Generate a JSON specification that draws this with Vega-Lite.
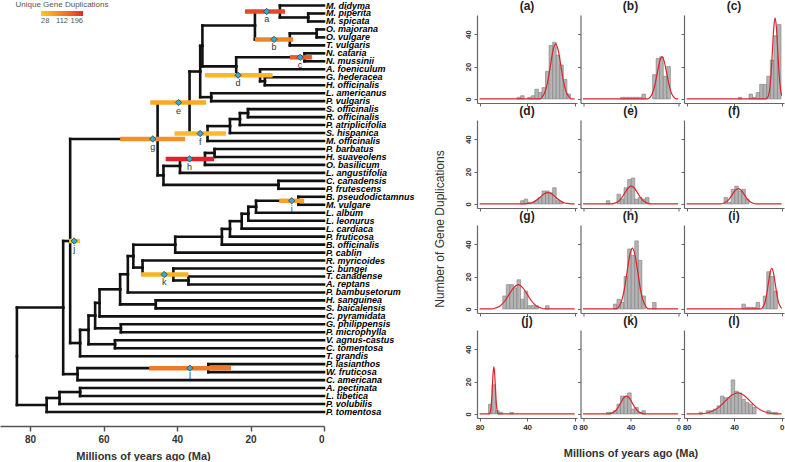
{
"$schema":"https://vega.github.io/schema/vega-lite/v6.json",
"padding":0,
"background":"white",
"config":{
 "font":"Liberation Sans",
 "view":{"stroke":null},
 "axis":{"grid":false,"domainColor":"#666","tickColor":"#666","labelColor":"#333","labelFontWeight":"bold","labelFontSize":8,"tickSize":3,"domainWidth":1.2,"tickWidth":1,"labelPadding":2,"labelOverlap":false},
 "axisY":{"labelOverlap":false,"labelBound":false,"labelFlush":false},
 "title":{"anchor":"middle","fontSize":12,"fontWeight":"bold","color":"#222","offset":2}
},
"datasets":{
"tree":[
{"t":"M. didyma","a":0,"y":1,"p":12.0,"q":1.75},
{"t":"M. piperita","a":0,"y":2,"p":4.3,"q":2.5},
{"t":"M. spicata","a":0,"y":3,"p":4.3,"q":2.5},
{"t":"O. majorana","a":0,"y":4,"p":2.0,"q":4.5},
{"t":"O. vulgare","a":0,"y":5,"p":2.0,"q":4.5},
{"t":"T. vulgaris","a":0,"y":6,"p":9.3,"q":5.25},
{"t":"N. cataria","a":0,"y":7,"p":5.3,"q":7.5},
{"t":"N. mussinii","a":0,"y":8,"p":5.3,"q":7.5},
{"t":"A. foeniculum","a":0,"y":9,"p":17.4,"q":9.75},
{"t":"G. hederacea","a":0,"y":10,"p":16.1,"q":10.5},
{"t":"H. officinalis","a":0,"y":11,"p":16.1,"q":10.5},
{"t":"L. americanus","a":0,"y":12,"p":30.7,"q":12.5},
{"t":"P. vulgaris","a":0,"y":13,"p":30.7,"q":12.5},
{"t":"S. officinalis","a":0,"y":14,"p":20.7,"q":14.5},
{"t":"R. officinalis","a":0,"y":15,"p":20.7,"q":14.5},
{"t":"P. atriplicifolia","a":0,"y":16,"p":22.9,"q":15.25},
{"t":"S. hispanica","a":0,"y":17,"p":25.6,"q":16.13},
{"t":"M. officinalis","a":0,"y":18,"p":31.7,"q":17.06},
{"t":"P. barbatus","a":0,"y":19,"p":29.8,"q":19.5},
{"t":"H. suaveolens","a":0,"y":20,"p":29.8,"q":19.5},
{"t":"O. basilicum","a":0,"y":21,"p":32.4,"q":20.25},
{"t":"L. angustifolia","a":0,"y":22,"p":39.2,"q":21.13},
{"t":"C. canadensis","a":0,"y":23,"p":12.4,"q":23.5},
{"t":"P. frutescens","a":0,"y":24,"p":12.4,"q":23.5},
{"t":"B. pseudodictamnus","a":0,"y":25,"p":7.0,"q":25.5},
{"t":"M. vulgare","a":0,"y":26,"p":7.0,"q":25.5},
{"t":"L. album","a":0,"y":27,"p":18.5,"q":26.25},
{"t":"L. leonurus","a":0,"y":28,"p":20.6,"q":27.13},
{"t":"L. cardiaca","a":0,"y":29,"p":22.4,"q":28.06},
{"t":"P. fruticosa","a":0,"y":30,"p":25.6,"q":29.03},
{"t":"B. officinalis","a":0,"y":31,"p":27.8,"q":30.02},
{"t":"P. cablin","a":0,"y":32,"p":40.5,"q":31.01},
{"t":"R. myricoides","a":0,"y":33,"p":49.4,"q":33.88},
{"t":"C. bungei","a":0,"y":34,"p":41.0,"q":34.75},
{"t":"T. canadense","a":0,"y":35,"p":36.9,"q":35.5},
{"t":"A. reptans","a":0,"y":36,"p":36.9,"q":35.5},
{"t":"P. bambusetorum","a":0,"y":37,"p":53.4,"q":34.72},
{"t":"H. sanguinea","a":0,"y":38,"p":45.8,"q":38.5},
{"t":"S. baicalensis","a":0,"y":39,"p":45.8,"q":38.5},
{"t":"C. pyramidata","a":0,"y":40,"p":61.1,"q":38.31},
{"t":"G. philippensis","a":0,"y":41,"p":55.3,"q":41.5},
{"t":"P. microphylla","a":0,"y":42,"p":55.3,"q":41.5},
{"t":"V. agnus-castus","a":0,"y":43,"p":56.9,"q":43.5},
{"t":"C. tomentosa","a":0,"y":44,"p":56.9,"q":43.5},
{"t":"T. grandis","a":0,"y":45,"p":66.4,"q":43.35},
{"t":"P. lasianthos","a":0,"y":46,"p":31.5,"q":46.5},
{"t":"W. fruticosa","a":0,"y":47,"p":31.5,"q":46.5},
{"t":"C. americana","a":0,"y":48,"p":67.1,"q":47.25},
{"t":"A. pectinata","a":0,"y":49,"p":66.4,"q":49.5},
{"t":"L. tibetica","a":0,"y":50,"p":66.4,"q":49.5},
{"t":"P. volubilis","a":0,"y":51,"p":72.0,"q":50.25},
{"t":"P. tomentosa","a":0,"y":52,"p":75.5,"q":51.13},
{"a":4.3,"y":2.5,"p":12.0,"q":1.75},
{"a":12.0,"y":1.75,"p":18.8,"q":3.5},
{"a":2.0,"y":4.5,"p":9.3,"q":5.25},
{"a":9.3,"y":5.25,"p":18.8,"q":3.5},
{"a":18.8,"y":3.5,"p":33.1,"q":6.06},
{"a":5.3,"y":7.5,"p":23.9,"q":8.63},
{"a":16.1,"y":10.5,"p":17.4,"q":9.75},
{"a":17.4,"y":9.75,"p":23.9,"q":8.63},
{"a":23.9,"y":8.63,"p":33.1,"q":6.06},
{"a":33.1,"y":6.06,"p":33.7,"q":9.28},
{"a":30.7,"y":12.5,"p":33.7,"q":9.28},
{"a":33.7,"y":9.28,"p":36.6,"q":13.17},
{"a":20.7,"y":14.5,"p":22.9,"q":15.25},
{"a":22.9,"y":15.25,"p":25.6,"q":16.13},
{"a":25.6,"y":16.13,"p":31.7,"q":17.06},
{"a":31.7,"y":17.06,"p":36.6,"q":13.17},
{"a":36.6,"y":13.17,"p":45.3,"q":17.74},
{"a":29.8,"y":19.5,"p":32.4,"q":20.25},
{"a":32.4,"y":20.25,"p":39.2,"q":21.13},
{"a":39.2,"y":21.13,"p":43.7,"q":22.31},
{"a":12.4,"y":23.5,"p":43.7,"q":22.31},
{"a":43.7,"y":22.31,"p":45.3,"q":17.74},
{"a":45.3,"y":17.74,"p":69.1,"q":30.55},
{"a":7.0,"y":25.5,"p":18.5,"q":26.25},
{"a":18.5,"y":26.25,"p":20.6,"q":27.13},
{"a":20.6,"y":27.13,"p":22.4,"q":28.06},
{"a":22.4,"y":28.06,"p":25.6,"q":29.03},
{"a":25.6,"y":29.03,"p":27.8,"q":30.02},
{"a":27.8,"y":30.02,"p":40.5,"q":31.01},
{"a":40.5,"y":31.01,"p":51.9,"q":32.44},
{"a":36.9,"y":35.5,"p":41.0,"q":34.75},
{"a":41.0,"y":34.75,"p":49.4,"q":33.88},
{"a":49.4,"y":33.88,"p":51.9,"q":32.44},
{"a":51.9,"y":32.44,"p":53.4,"q":34.72},
{"a":53.4,"y":34.72,"p":55.5,"q":36.61},
{"a":45.8,"y":38.5,"p":55.5,"q":36.61},
{"a":55.5,"y":36.61,"p":61.1,"q":38.31},
{"a":61.1,"y":38.31,"p":62.3,"q":39.9},
{"a":55.3,"y":41.5,"p":62.3,"q":39.9},
{"a":62.3,"y":39.9,"p":64.1,"q":41.7},
{"a":56.9,"y":43.5,"p":64.1,"q":41.7},
{"a":64.1,"y":41.7,"p":66.4,"q":43.35},
{"a":66.4,"y":43.35,"p":69.1,"q":30.55},
{"a":69.1,"y":30.55,"p":71.0,"q":38.9},
{"a":31.5,"y":46.5,"p":67.1,"q":47.25},
{"a":67.1,"y":47.25,"p":71.0,"q":38.9},
{"a":71.0,"y":38.9,"p":83.6,"q":45.0},
{"a":66.4,"y":49.5,"p":72.0,"q":50.25},
{"a":72.0,"y":50.25,"p":75.5,"q":51.13},
{"a":75.5,"y":51.13,"p":83.6,"q":45.0}
],
"ev":[
{"ev":"a","m":15.6,"lo":10.6,"hi":21.5,"y":1.75,"n":171},
{"ev":"b","m":13.6,"lo":8.4,"hi":18.8,"y":5.25,"n":109},
{"ev":"c","m":6.5,"lo":3.3,"hi":9.3,"y":7.5,"n":150},
{"ev":"d","m":23.4,"lo":14.0,"hi":32.4,"y":9.75,"n":49},
{"ev":"e","m":39.6,"lo":32.1,"hi":47.3,"y":13.17,"n":66},
{"ev":"f","m":33.7,"lo":26.7,"hi":40.7,"y":17.06,"n":45},
{"ev":"g","m":46.6,"lo":37.8,"hi":55.5,"y":17.74,"n":94},
{"ev":"h","m":36.6,"lo":29.9,"hi":43.1,"y":20.25,"n":196},
{"ev":"i","m":8.8,"lo":5.4,"hi":12.2,"y":25.5,"n":73},
{"ev":"j","m":68.0,"lo":66.4,"hi":69.4,"y":30.55,"n":28},
{"ev":"k","m":43.5,"lo":36.9,"hi":49.8,"y":34.75,"n":55},
{"ev":"l","m":36.5,"lo":25.3,"hi":47.6,"y":46.5,"n":122}
],
"hist":[
{"p":"a","lo":45.5,"hi":48.5,"n":1},{"p":"a","lo":42.5,"hi":45.5,"n":2},{"p":"a","lo":36.5,"hi":39.5,"n":1},{"p":"a","lo":33.5,"hi":36.5,"n":2},{"p":"a","lo":30.5,"hi":33.5,"n":6},{"p":"a","lo":27.5,"hi":30.5,"n":4},{"p":"a","lo":24.5,"hi":27.5,"n":7},{"p":"a","lo":21.5,"hi":24.5,"n":17},{"p":"a","lo":18.5,"hi":21.5,"n":33},{"p":"a","lo":15.5,"hi":18.5,"n":35},{"p":"a","lo":12.5,"hi":15.5,"n":27},{"p":"a","lo":9.5,"hi":12.5,"n":21},{"p":"a","lo":6.5,"hi":9.5,"n":12},{"p":"a","lo":3.5,"hi":6.5,"n":3},
{"p":"b","lo":45.5,"hi":48.5,"n":1},{"p":"b","lo":42.5,"hi":45.5,"n":1},{"p":"b","lo":39.5,"hi":42.5,"n":1},{"p":"b","lo":36.5,"hi":39.5,"n":1},{"p":"b","lo":33.5,"hi":36.5,"n":1},{"p":"b","lo":30.5,"hi":33.5,"n":1},{"p":"b","lo":27.5,"hi":30.5,"n":3},{"p":"b","lo":18.5,"hi":21.5,"n":15},{"p":"b","lo":15.5,"hi":18.5,"n":25},{"p":"b","lo":12.5,"hi":15.5,"n":26},{"p":"b","lo":9.5,"hi":12.5,"n":14},{"p":"b","lo":6.5,"hi":9.5,"n":20},
{"p":"c","lo":33.5,"hi":36.5,"n":1},{"p":"c","lo":24.5,"hi":27.5,"n":3},{"p":"c","lo":21.5,"hi":24.5,"n":1},{"p":"c","lo":18.5,"hi":21.5,"n":4},{"p":"c","lo":15.5,"hi":18.5,"n":9},{"p":"c","lo":12.5,"hi":15.5,"n":9},{"p":"c","lo":9.5,"hi":12.5,"n":14},{"p":"c","lo":6.5,"hi":9.5,"n":24},{"p":"c","lo":3.5,"hi":6.5,"n":39},{"p":"c","lo":0.5,"hi":3.5,"n":46},
{"p":"d","lo":42.5,"hi":45.5,"n":2},{"p":"d","lo":39.5,"hi":42.5,"n":3},{"p":"d","lo":36.5,"hi":39.5,"n":1},{"p":"d","lo":33.5,"hi":36.5,"n":1},{"p":"d","lo":30.5,"hi":33.5,"n":2},{"p":"d","lo":27.5,"hi":30.5,"n":4},{"p":"d","lo":24.5,"hi":27.5,"n":8},{"p":"d","lo":21.5,"hi":24.5,"n":8},{"p":"d","lo":18.5,"hi":21.5,"n":7},{"p":"d","lo":15.5,"hi":18.5,"n":10},{"p":"d","lo":12.5,"hi":15.5,"n":2},{"p":"d","lo":9.5,"hi":12.5,"n":1},
{"p":"e","lo":57.5,"hi":60.5,"n":2},{"p":"e","lo":48.5,"hi":51.5,"n":6},{"p":"e","lo":45.5,"hi":48.5,"n":3},{"p":"e","lo":42.5,"hi":45.5,"n":10},{"p":"e","lo":39.5,"hi":42.5,"n":15},{"p":"e","lo":36.5,"hi":39.5,"n":16},{"p":"e","lo":33.5,"hi":36.5,"n":3},{"p":"e","lo":30.5,"hi":33.5,"n":4},{"p":"e","lo":27.5,"hi":30.5,"n":3},{"p":"e","lo":24.5,"hi":27.5,"n":4},
{"p":"f","lo":45.5,"hi":48.5,"n":4},{"p":"f","lo":42.5,"hi":45.5,"n":1},{"p":"f","lo":39.5,"hi":42.5,"n":9},{"p":"f","lo":36.5,"hi":39.5,"n":11},{"p":"f","lo":33.5,"hi":36.5,"n":8},{"p":"f","lo":30.5,"hi":33.5,"n":9},{"p":"f","lo":27.5,"hi":30.5,"n":3},
{"p":"g","lo":57.5,"hi":60.5,"n":8},{"p":"g","lo":54.5,"hi":57.5,"n":15},{"p":"g","lo":51.5,"hi":54.5,"n":15},{"p":"g","lo":48.5,"hi":51.5,"n":13},{"p":"g","lo":45.5,"hi":48.5,"n":18},{"p":"g","lo":42.5,"hi":45.5,"n":6},{"p":"g","lo":39.5,"hi":42.5,"n":11},{"p":"g","lo":36.5,"hi":39.5,"n":2},{"p":"g","lo":33.5,"hi":36.5,"n":2},{"p":"g","lo":30.5,"hi":33.5,"n":2},{"p":"g","lo":21.5,"hi":24.5,"n":2},
{"p":"h","lo":51.5,"hi":54.5,"n":3},{"p":"h","lo":48.5,"hi":51.5,"n":6},{"p":"h","lo":45.5,"hi":48.5,"n":4},{"p":"h","lo":42.5,"hi":45.5,"n":20},{"p":"h","lo":39.5,"hi":42.5,"n":37},{"p":"h","lo":36.5,"hi":39.5,"n":33},{"p":"h","lo":33.5,"hi":36.5,"n":42},{"p":"h","lo":30.5,"hi":33.5,"n":30},{"p":"h","lo":27.5,"hi":30.5,"n":8},{"p":"h","lo":18.5,"hi":21.5,"n":4},
{"p":"i","lo":30.5,"hi":33.5,"n":3},{"p":"i","lo":27.5,"hi":30.5,"n":1},{"p":"i","lo":24.5,"hi":27.5,"n":1},{"p":"i","lo":21.5,"hi":24.5,"n":1},{"p":"i","lo":18.5,"hi":21.5,"n":4},{"p":"i","lo":12.5,"hi":15.5,"n":8},{"p":"i","lo":9.5,"hi":12.5,"n":23},{"p":"i","lo":6.5,"hi":9.5,"n":20},{"p":"i","lo":3.5,"hi":6.5,"n":11},
{"p":"j","lo":69.5,"hi":72.5,"n":6},{"p":"j","lo":66.5,"hi":69.5,"n":18},{"p":"j","lo":63.5,"hi":66.5,"n":2},{"p":"j","lo":60.5,"hi":63.5,"n":1},{"p":"j","lo":51.5,"hi":54.5,"n":1},
{"p":"k","lo":57.5,"hi":60.5,"n":1},{"p":"k","lo":54.5,"hi":57.5,"n":1},{"p":"k","lo":51.5,"hi":54.5,"n":2},{"p":"k","lo":48.5,"hi":51.5,"n":6},{"p":"k","lo":45.5,"hi":48.5,"n":11},{"p":"k","lo":42.5,"hi":45.5,"n":11},{"p":"k","lo":39.5,"hi":42.5,"n":13},{"p":"k","lo":36.5,"hi":39.5,"n":3},{"p":"k","lo":33.5,"hi":36.5,"n":4},{"p":"k","lo":30.5,"hi":33.5,"n":1},{"p":"k","lo":27.5,"hi":30.5,"n":2},
{"p":"l","lo":66.5,"hi":69.5,"n":1},{"p":"l","lo":60.5,"hi":63.5,"n":2},{"p":"l","lo":57.5,"hi":60.5,"n":2},{"p":"l","lo":54.5,"hi":57.5,"n":3},{"p":"l","lo":51.5,"hi":54.5,"n":5},{"p":"l","lo":48.5,"hi":51.5,"n":11},{"p":"l","lo":45.5,"hi":48.5,"n":10},{"p":"l","lo":42.5,"hi":45.5,"n":10},{"p":"l","lo":39.5,"hi":42.5,"n":21},{"p":"l","lo":36.5,"hi":39.5,"n":14},{"p":"l","lo":33.5,"hi":36.5,"n":13},{"p":"l","lo":30.5,"hi":33.5,"n":9},{"p":"l","lo":27.5,"hi":30.5,"n":7},{"p":"l","lo":24.5,"hi":27.5,"n":6},{"p":"l","lo":21.5,"hi":24.5,"n":4},{"p":"l","lo":9.5,"hi":12.5,"n":2},{"p":"l","lo":6.5,"hi":9.5,"n":1},{"p":"l","lo":3.5,"hi":6.5,"n":1}
],
"curve":[
{"p":"a","x":0,"v":0},{"p":"a","x":2.8,"v":0},{"p":"a","x":5,"v":1.5},{"p":"a","x":7.2,"v":4.6},{"p":"a","x":9.4,"v":11},{"p":"a","x":11.6,"v":20.6},{"p":"a","x":13.8,"v":30},{"p":"a","x":16,"v":34},{"p":"a","x":18.2,"v":30},{"p":"a","x":20.4,"v":20.6},{"p":"a","x":22.6,"v":11},{"p":"a","x":24.8,"v":4.6},{"p":"a","x":27,"v":1.5},{"p":"a","x":29.2,"v":0},{"p":"a","x":80,"v":0},
{"p":"b","x":0,"v":0},{"p":"b","x":1.6,"v":0},{"p":"b","x":3.6,"v":1.1},{"p":"b","x":5.6,"v":3.5},{"p":"b","x":7.6,"v":8.5},{"p":"b","x":9.6,"v":15.8},{"p":"b","x":11.6,"v":22.9},{"p":"b","x":13.6,"v":26},{"p":"b","x":15.6,"v":22.9},{"p":"b","x":17.6,"v":15.8},{"p":"b","x":19.6,"v":8.5},{"p":"b","x":21.6,"v":3.5},{"p":"b","x":23.6,"v":1.1},{"p":"b","x":25.6,"v":0},{"p":"b","x":80,"v":0},
{"p":"c","x":0,"v":2},{"p":"c","x":1.1,"v":6.8},{"p":"c","x":2.2,"v":16.2},{"p":"c","x":3.3,"v":30.4},{"p":"c","x":4.4,"v":44.1},{"p":"c","x":5.5,"v":50},{"p":"c","x":6.6,"v":44.1},{"p":"c","x":7.7,"v":30.4},{"p":"c","x":8.8,"v":16.2},{"p":"c","x":9.9,"v":6.8},{"p":"c","x":11,"v":2.2},{"p":"c","x":12.1,"v":0.7},{"p":"c","x":13.2,"v":0},{"p":"c","x":80,"v":0},
{"p":"d","x":0,"v":0},{"p":"d","x":3,"v":0},{"p":"d","x":6.25,"v":0.3},{"p":"d","x":9.5,"v":0.9},{"p":"d","x":12.75,"v":2.3},{"p":"d","x":16,"v":4.2},{"p":"d","x":19.25,"v":6.2},{"p":"d","x":22.5,"v":7},{"p":"d","x":25.75,"v":6.2},{"p":"d","x":29,"v":4.2},{"p":"d","x":32.25,"v":2.3},{"p":"d","x":35.5,"v":0.9},{"p":"d","x":38.75,"v":0.3},{"p":"d","x":42,"v":0},{"p":"d","x":80,"v":0},
{"p":"e","x":0,"v":0},{"p":"e","x":23,"v":0},{"p":"e","x":25.75,"v":0.5},{"p":"e","x":28.5,"v":1.5},{"p":"e","x":31.25,"v":3.6},{"p":"e","x":34,"v":6.7},{"p":"e","x":36.75,"v":9.7},{"p":"e","x":39.5,"v":11},{"p":"e","x":42.25,"v":9.7},{"p":"e","x":45,"v":6.7},{"p":"e","x":47.75,"v":3.6},{"p":"e","x":50.5,"v":1.5},{"p":"e","x":53.25,"v":0.5},{"p":"e","x":56,"v":0},{"p":"e","x":80,"v":0},
{"p":"f","x":0,"v":0},{"p":"f","x":21.5,"v":0},{"p":"f","x":24,"v":0.4},{"p":"f","x":26.5,"v":1.3},{"p":"f","x":29,"v":3.1},{"p":"f","x":31.5,"v":5.8},{"p":"f","x":34,"v":8.4},{"p":"f","x":36.5,"v":9.5},{"p":"f","x":39,"v":8.4},{"p":"f","x":41.5,"v":5.8},{"p":"f","x":44,"v":3.1},{"p":"f","x":46.5,"v":1.3},{"p":"f","x":49,"v":0.4},{"p":"f","x":51.5,"v":0},{"p":"f","x":80,"v":0},
{"p":"g","x":0,"v":0},{"p":"g","x":25,"v":0},{"p":"g","x":28.75,"v":0.7},{"p":"g","x":32.5,"v":2},{"p":"g","x":36.25,"v":4.9},{"p":"g","x":40,"v":9.1},{"p":"g","x":43.75,"v":13.2},{"p":"g","x":47.5,"v":15},{"p":"g","x":51.25,"v":13.2},{"p":"g","x":55,"v":9.1},{"p":"g","x":58.75,"v":4.9},{"p":"g","x":62.5,"v":2},{"p":"g","x":66.25,"v":0.7},{"p":"g","x":70,"v":0},{"p":"g","x":80,"v":0},
{"p":"h","x":0,"v":0},{"p":"h","x":25,"v":0},{"p":"h","x":27.25,"v":1.6},{"p":"h","x":29.5,"v":5.1},{"p":"h","x":31.75,"v":12.2},{"p":"h","x":34,"v":22.8},{"p":"h","x":36.25,"v":33.1},{"p":"h","x":38.5,"v":37.5},{"p":"h","x":40.75,"v":33.1},{"p":"h","x":43,"v":22.8},{"p":"h","x":45.25,"v":12.2},{"p":"h","x":47.5,"v":5.1},{"p":"h","x":49.75,"v":1.6},{"p":"h","x":52,"v":0},{"p":"h","x":80,"v":0},
{"p":"i","x":0,"v":0.4},{"p":"i","x":0.8,"v":1.1},{"p":"i","x":2.3,"v":3.4},{"p":"i","x":3.8,"v":8.1},{"p":"i","x":5.3,"v":15.2},{"p":"i","x":6.8,"v":22},{"p":"i","x":8.3,"v":25},{"p":"i","x":9.8,"v":22},{"p":"i","x":11.3,"v":15.2},{"p":"i","x":12.8,"v":8.1},{"p":"i","x":14.3,"v":3.4},{"p":"i","x":15.8,"v":1.1},{"p":"i","x":17.3,"v":0},{"p":"i","x":80,"v":0},
{"p":"j","x":0,"v":0},{"p":"j","x":64.4,"v":0},{"p":"j","x":65,"v":1.3},{"p":"j","x":65.6,"v":3.9},{"p":"j","x":66.2,"v":9.4},{"p":"j","x":66.8,"v":17.6},{"p":"j","x":67.4,"v":25.6},{"p":"j","x":68,"v":29},{"p":"j","x":68.6,"v":25.6},{"p":"j","x":69.2,"v":17.6},{"p":"j","x":69.8,"v":9.4},{"p":"j","x":70.4,"v":3.9},{"p":"j","x":71,"v":1.3},{"p":"j","x":71.6,"v":0},{"p":"j","x":80,"v":0},
{"p":"k","x":0,"v":0},{"p":"k","x":28.5,"v":0},{"p":"k","x":31,"v":0.5},{"p":"k","x":33.5,"v":1.5},{"p":"k","x":36,"v":3.6},{"p":"k","x":38.5,"v":6.7},{"p":"k","x":41,"v":9.7},{"p":"k","x":43.5,"v":11},{"p":"k","x":46,"v":9.7},{"p":"k","x":48.5,"v":6.7},{"p":"k","x":51,"v":3.6},{"p":"k","x":53.5,"v":1.5},{"p":"k","x":56,"v":0.5},{"p":"k","x":58.5,"v":0},{"p":"k","x":80,"v":0},
{"p":"l","x":0,"v":0},{"p":"l","x":5.5,"v":0},{"p":"l","x":10.75,"v":0.6},{"p":"l","x":16,"v":1.8},{"p":"l","x":21.25,"v":4.2},{"p":"l","x":26.5,"v":7.9},{"p":"l","x":31.75,"v":11.5},{"p":"l","x":37,"v":13},{"p":"l","x":42.25,"v":11.5},{"p":"l","x":47.5,"v":7.9},{"p":"l","x":52.75,"v":4.2},{"p":"l","x":58,"v":1.8},{"p":"l","x":63.25,"v":0.6},{"p":"l","x":68.5,"v":0},{"p":"l","x":80,"v":0}
]
},
"spacing":18,
"hconcat":[
{
 "width":324,"height":411,
 "layer":[
  {"data":{"name":"tree"},"mark":{"type":"rule","color":"#111","strokeWidth":2.6,"strokeCap":"square"},
   "encoding":{
    "x":{"field":"a","type":"quantitative","scale":{"domain":[0,88.2],"reverse":true,"nice":false,"zero":false},
     "axis":{"values":[80,60,40,20,0],"title":"Millions of years ago (Ma)","titleFontSize":11,"titleFontWeight":"bold","titleColor":"#333","titlePadding":6,"titleX":143,"labelFontSize":10,"labelFontWeight":"bold","labelColor":"#333","labelPadding":3,"domainColor":"#555","domainWidth":1.5,"tickColor":"#555","tickWidth":1.5,"tickSize":5}},
    "x2":{"field":"p"},
    "y":{"field":"y","type":"quantitative","scale":{"domain":[2.19,53.76],"reverse":true,"nice":false,"zero":false},"axis":null}}},
  {"data":{"name":"tree"},"mark":{"type":"rule","color":"#111","strokeWidth":2.6,"strokeCap":"square"},
   "encoding":{"x":{"field":"p","type":"quantitative"},"y":{"field":"y","type":"quantitative"},"y2":{"field":"q"}}},
  {"data":{"name":"tree"},"transform":[{"filter":"isValid(datum.t)"}],
   "mark":{"type":"text","align":"left","baseline":"middle","dx":2,"fontSize":9,"fontStyle":"italic","fontWeight":"bold","color":"#000"},
   "encoding":{"x":{"field":"a","type":"quantitative"},"y":{"field":"y","type":"quantitative"},"text":{"field":"t"}}},
  {"data":{"name":"ev"},"mark":{"type":"rule","strokeWidth":4.5},
   "encoding":{"x":{"field":"lo","type":"quantitative"},"x2":{"field":"hi"},"y":{"field":"y","type":"quantitative"},
    "color":{"field":"n","type":"quantitative","scale":{"domain":[28,112,196],"range":["#fbc92c","#ef8228","#e2212e"]},
     "legend":{"title":"Unique Gene Duplications","orient":"none","legendX":16,"legendY":-14,"direction":"horizontal","gradientLength":42,"gradientThickness":5,"values":[28,112,196],"titleFontSize":8,"titleFontWeight":"normal","titleColor":"#555","titleAnchor":"middle","titlePadding":2,"labelFontSize":7.5,"labelColor":"#555","labelOffset":1,"gradientStrokeWidth":0}}}},
  {"data":{"name":"ev"},"mark":{"type":"point","shape":"diamond","filled":true,"size":40,"fill":"#42a5c9","stroke":"#1b4a5e","strokeWidth":0.8,"opacity":1},
   "encoding":{"x":{"field":"m","type":"quantitative"},"y":{"field":"y","type":"quantitative"}}},
  {"data":{"name":"ev"},"mark":{"type":"text","baseline":"middle","dy":8,"fontSize":9,"color":"#333"},
   "encoding":{"x":{"field":"m","type":"quantitative"},"y":{"field":"y","type":"quantitative"},"text":{"field":"ev"}}}
 ]
},
{
 "title":{"text":"Number of Gene Duplications","orient":"left","anchor":"middle","fontSize":12,"fontWeight":"normal","color":"#333","offset":17},
 "columns":3,
 "spacing":{"row":17,"column":3.5},
 "bounds":"flush",
 "concat":[
  {"title":"(a)","width":100,"height":88,"layer":[
   {"data":{"name":"hist"},"transform":[{"filter":"datum.p==='a'"}],"mark":{"type":"rect","fill":"#b4b4b4","stroke":"#7d7d7d","strokeWidth":0.6},
    "encoding":{"x":{"field":"lo","type":"quantitative","scale":{"domain":[-2,82.2],"reverse":true,"nice":false,"zero":false},"axis":{"values":[80,60,40,20,0],"title":null,"labels":false}},"x2":{"field":"hi"},
     "y":{"field":"n","type":"quantitative","scale":{"domain":[-2.5,51.8],"nice":false,"zero":false},"axis":{"values":[0,10,20,30,40,50],"title":null,"labels":true,"labelAngle":-90,"labelAlign":"center","labelBaseline":"bottom","labelFontSize":7.5,"labelOverlap":false}},"y2":{"datum":0}}},
   {"data":{"name":"curve"},"transform":[{"filter":"datum.p==='a'"}],"mark":{"type":"line","color":"#d9252b","strokeWidth":1.2,"interpolate":"monotone"},
    "encoding":{"x":{"field":"x","type":"quantitative"},"y":{"field":"v","type":"quantitative"}}}]},
  {"title":"(b)","width":100,"height":88,"layer":[
   {"data":{"name":"hist"},"transform":[{"filter":"datum.p==='b'"}],"mark":{"type":"rect","fill":"#b4b4b4","stroke":"#7d7d7d","strokeWidth":0.6},
    "encoding":{"x":{"field":"lo","type":"quantitative","scale":{"domain":[-2,82.2],"reverse":true,"nice":false,"zero":false},"axis":{"values":[80,60,40,20,0],"title":null,"labels":false}},"x2":{"field":"hi"},
     "y":{"field":"n","type":"quantitative","scale":{"domain":[-2.5,51.8],"nice":false,"zero":false},"axis":{"values":[0,10,20,30,40,50],"title":null,"labels":false}},"y2":{"datum":0}}},
   {"data":{"name":"curve"},"transform":[{"filter":"datum.p==='b'"}],"mark":{"type":"line","color":"#d9252b","strokeWidth":1.2,"interpolate":"monotone"},
    "encoding":{"x":{"field":"x","type":"quantitative"},"y":{"field":"v","type":"quantitative"}}}]},
  {"title":"(c)","width":100,"height":88,"layer":[
   {"data":{"name":"hist"},"transform":[{"filter":"datum.p==='c'"}],"mark":{"type":"rect","fill":"#b4b4b4","stroke":"#7d7d7d","strokeWidth":0.6},
    "encoding":{"x":{"field":"lo","type":"quantitative","scale":{"domain":[-2,82.2],"reverse":true,"nice":false,"zero":false},"axis":{"values":[80,60,40,20,0],"title":null,"labels":false}},"x2":{"field":"hi"},
     "y":{"field":"n","type":"quantitative","scale":{"domain":[-2.5,51.8],"nice":false,"zero":false},"axis":{"values":[0,10,20,30,40,50],"title":null,"labels":false}},"y2":{"datum":0}}},
   {"data":{"name":"curve"},"transform":[{"filter":"datum.p==='c'"}],"mark":{"type":"line","color":"#d9252b","strokeWidth":1.2,"interpolate":"monotone"},
    "encoding":{"x":{"field":"x","type":"quantitative"},"y":{"field":"v","type":"quantitative"}}}]},
  {"title":"(d)","width":100,"height":88,"layer":[
   {"data":{"name":"hist"},"transform":[{"filter":"datum.p==='d'"}],"mark":{"type":"rect","fill":"#b4b4b4","stroke":"#7d7d7d","strokeWidth":0.6},
    "encoding":{"x":{"field":"lo","type":"quantitative","scale":{"domain":[-2,82.2],"reverse":true,"nice":false,"zero":false},"axis":{"values":[80,60,40,20,0],"title":null,"labels":false}},"x2":{"field":"hi"},
     "y":{"field":"n","type":"quantitative","scale":{"domain":[-2.5,51.8],"nice":false,"zero":false},"axis":{"values":[0,10,20,30,40,50],"title":null,"labels":true,"labelAngle":-90,"labelAlign":"center","labelBaseline":"bottom","labelFontSize":7.5,"labelOverlap":false}},"y2":{"datum":0}}},
   {"data":{"name":"curve"},"transform":[{"filter":"datum.p==='d'"}],"mark":{"type":"line","color":"#d9252b","strokeWidth":1.2,"interpolate":"monotone"},
    "encoding":{"x":{"field":"x","type":"quantitative"},"y":{"field":"v","type":"quantitative"}}}]},
  {"title":"(e)","width":100,"height":88,"layer":[
   {"data":{"name":"hist"},"transform":[{"filter":"datum.p==='e'"}],"mark":{"type":"rect","fill":"#b4b4b4","stroke":"#7d7d7d","strokeWidth":0.6},
    "encoding":{"x":{"field":"lo","type":"quantitative","scale":{"domain":[-2,82.2],"reverse":true,"nice":false,"zero":false},"axis":{"values":[80,60,40,20,0],"title":null,"labels":false}},"x2":{"field":"hi"},
     "y":{"field":"n","type":"quantitative","scale":{"domain":[-2.5,51.8],"nice":false,"zero":false},"axis":{"values":[0,10,20,30,40,50],"title":null,"labels":false}},"y2":{"datum":0}}},
   {"data":{"name":"curve"},"transform":[{"filter":"datum.p==='e'"}],"mark":{"type":"line","color":"#d9252b","strokeWidth":1.2,"interpolate":"monotone"},
    "encoding":{"x":{"field":"x","type":"quantitative"},"y":{"field":"v","type":"quantitative"}}}]},
  {"title":"(f)","width":100,"height":88,"layer":[
   {"data":{"name":"hist"},"transform":[{"filter":"datum.p==='f'"}],"mark":{"type":"rect","fill":"#b4b4b4","stroke":"#7d7d7d","strokeWidth":0.6},
    "encoding":{"x":{"field":"lo","type":"quantitative","scale":{"domain":[-2,82.2],"reverse":true,"nice":false,"zero":false},"axis":{"values":[80,60,40,20,0],"title":null,"labels":false}},"x2":{"field":"hi"},
     "y":{"field":"n","type":"quantitative","scale":{"domain":[-2.5,51.8],"nice":false,"zero":false},"axis":{"values":[0,10,20,30,40,50],"title":null,"labels":false}},"y2":{"datum":0}}},
   {"data":{"name":"curve"},"transform":[{"filter":"datum.p==='f'"}],"mark":{"type":"line","color":"#d9252b","strokeWidth":1.2,"interpolate":"monotone"},
    "encoding":{"x":{"field":"x","type":"quantitative"},"y":{"field":"v","type":"quantitative"}}}]},
  {"title":"(g)","width":100,"height":88,"layer":[
   {"data":{"name":"hist"},"transform":[{"filter":"datum.p==='g'"}],"mark":{"type":"rect","fill":"#b4b4b4","stroke":"#7d7d7d","strokeWidth":0.6},
    "encoding":{"x":{"field":"lo","type":"quantitative","scale":{"domain":[-2,82.2],"reverse":true,"nice":false,"zero":false},"axis":{"values":[80,60,40,20,0],"title":null,"labels":false}},"x2":{"field":"hi"},
     "y":{"field":"n","type":"quantitative","scale":{"domain":[-2.5,51.8],"nice":false,"zero":false},"axis":{"values":[0,10,20,30,40,50],"title":null,"labels":true,"labelAngle":-90,"labelAlign":"center","labelBaseline":"bottom","labelFontSize":7.5,"labelOverlap":false}},"y2":{"datum":0}}},
   {"data":{"name":"curve"},"transform":[{"filter":"datum.p==='g'"}],"mark":{"type":"line","color":"#d9252b","strokeWidth":1.2,"interpolate":"monotone"},
    "encoding":{"x":{"field":"x","type":"quantitative"},"y":{"field":"v","type":"quantitative"}}}]},
  {"title":"(h)","width":100,"height":88,"layer":[
   {"data":{"name":"hist"},"transform":[{"filter":"datum.p==='h'"}],"mark":{"type":"rect","fill":"#b4b4b4","stroke":"#7d7d7d","strokeWidth":0.6},
    "encoding":{"x":{"field":"lo","type":"quantitative","scale":{"domain":[-2,82.2],"reverse":true,"nice":false,"zero":false},"axis":{"values":[80,60,40,20,0],"title":null,"labels":false}},"x2":{"field":"hi"},
     "y":{"field":"n","type":"quantitative","scale":{"domain":[-2.5,51.8],"nice":false,"zero":false},"axis":{"values":[0,10,20,30,40,50],"title":null,"labels":false}},"y2":{"datum":0}}},
   {"data":{"name":"curve"},"transform":[{"filter":"datum.p==='h'"}],"mark":{"type":"line","color":"#d9252b","strokeWidth":1.2,"interpolate":"monotone"},
    "encoding":{"x":{"field":"x","type":"quantitative"},"y":{"field":"v","type":"quantitative"}}}]},
  {"title":"(i)","width":100,"height":88,"layer":[
   {"data":{"name":"hist"},"transform":[{"filter":"datum.p==='i'"}],"mark":{"type":"rect","fill":"#b4b4b4","stroke":"#7d7d7d","strokeWidth":0.6},
    "encoding":{"x":{"field":"lo","type":"quantitative","scale":{"domain":[-2,82.2],"reverse":true,"nice":false,"zero":false},"axis":{"values":[80,60,40,20,0],"title":null,"labels":false}},"x2":{"field":"hi"},
     "y":{"field":"n","type":"quantitative","scale":{"domain":[-2.5,51.8],"nice":false,"zero":false},"axis":{"values":[0,10,20,30,40,50],"title":null,"labels":false}},"y2":{"datum":0}}},
   {"data":{"name":"curve"},"transform":[{"filter":"datum.p==='i'"}],"mark":{"type":"line","color":"#d9252b","strokeWidth":1.2,"interpolate":"monotone"},
    "encoding":{"x":{"field":"x","type":"quantitative"},"y":{"field":"v","type":"quantitative"}}}]},
  {"title":"(j)","width":100,"height":88,"layer":[
   {"data":{"name":"hist"},"transform":[{"filter":"datum.p==='j'"}],"mark":{"type":"rect","fill":"#b4b4b4","stroke":"#7d7d7d","strokeWidth":0.6},
    "encoding":{"x":{"field":"lo","type":"quantitative","scale":{"domain":[-2,82.2],"reverse":true,"nice":false,"zero":false},"axis":{"values":[80,60,40,20,0],"title":null,"labels":true}},"x2":{"field":"hi"},
     "y":{"field":"n","type":"quantitative","scale":{"domain":[-2.5,51.8],"nice":false,"zero":false},"axis":{"values":[0,10,20,30,40,50],"title":null,"labels":true,"labelAngle":-90,"labelAlign":"center","labelBaseline":"bottom","labelFontSize":7.5,"labelOverlap":false}},"y2":{"datum":0}}},
   {"data":{"name":"curve"},"transform":[{"filter":"datum.p==='j'"}],"mark":{"type":"line","color":"#d9252b","strokeWidth":1.2,"interpolate":"monotone"},
    "encoding":{"x":{"field":"x","type":"quantitative"},"y":{"field":"v","type":"quantitative"}}}]},
  {"title":"(k)","width":100,"height":88,"layer":[
   {"data":{"name":"hist"},"transform":[{"filter":"datum.p==='k'"}],"mark":{"type":"rect","fill":"#b4b4b4","stroke":"#7d7d7d","strokeWidth":0.6},
    "encoding":{"x":{"field":"lo","type":"quantitative","scale":{"domain":[-2,82.2],"reverse":true,"nice":false,"zero":false},"axis":{"values":[80,60,40,20,0],"title":"Millions of years ago (Ma)","titleFontSize":11,"titleFontWeight":"bold","titleColor":"#333","titlePadding":16,"labels":true}},"x2":{"field":"hi"},
     "y":{"field":"n","type":"quantitative","scale":{"domain":[-2.5,51.8],"nice":false,"zero":false},"axis":{"values":[0,10,20,30,40,50],"title":null,"labels":false}},"y2":{"datum":0}}},
   {"data":{"name":"curve"},"transform":[{"filter":"datum.p==='k'"}],"mark":{"type":"line","color":"#d9252b","strokeWidth":1.2,"interpolate":"monotone"},
    "encoding":{"x":{"field":"x","type":"quantitative"},"y":{"field":"v","type":"quantitative"}}}]},
  {"title":"(l)","width":100,"height":88,"layer":[
   {"data":{"name":"hist"},"transform":[{"filter":"datum.p==='l'"}],"mark":{"type":"rect","fill":"#b4b4b4","stroke":"#7d7d7d","strokeWidth":0.6},
    "encoding":{"x":{"field":"lo","type":"quantitative","scale":{"domain":[-2,82.2],"reverse":true,"nice":false,"zero":false},"axis":{"values":[80,60,40,20,0],"title":null,"labels":true}},"x2":{"field":"hi"},
     "y":{"field":"n","type":"quantitative","scale":{"domain":[-2.5,51.8],"nice":false,"zero":false},"axis":{"values":[0,10,20,30,40,50],"title":null,"labels":false}},"y2":{"datum":0}}},
   {"data":{"name":"curve"},"transform":[{"filter":"datum.p==='l'"}],"mark":{"type":"line","color":"#d9252b","strokeWidth":1.2,"interpolate":"monotone"},
    "encoding":{"x":{"field":"x","type":"quantitative"},"y":{"field":"v","type":"quantitative"}}}]}
 ]
}
]
}
